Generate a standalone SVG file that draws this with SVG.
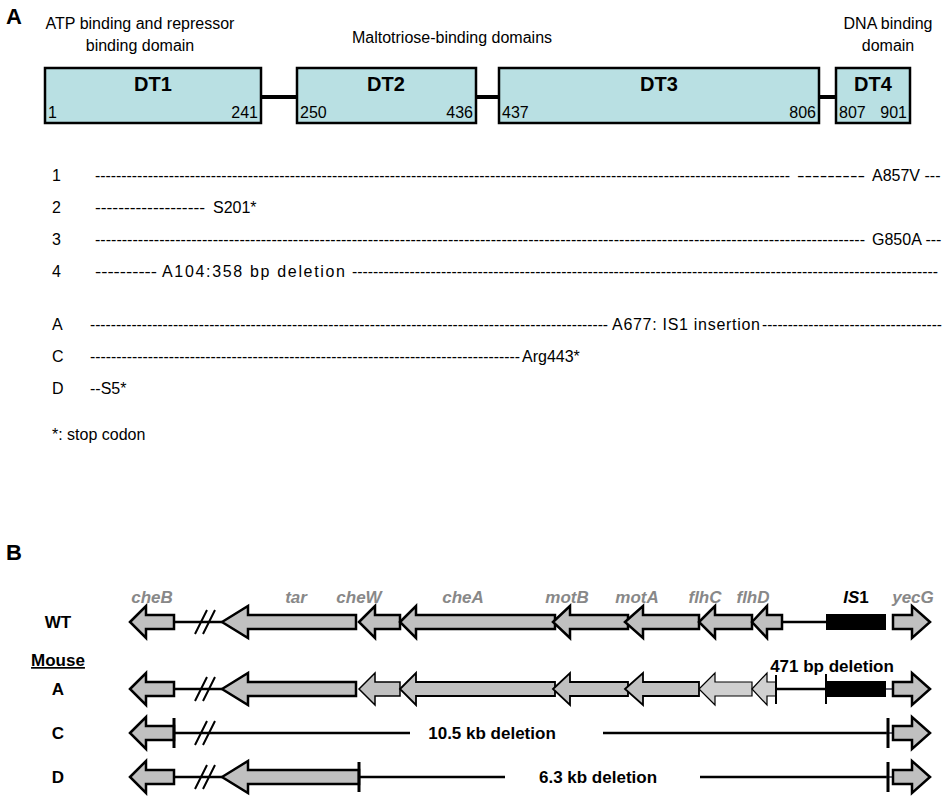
<svg xmlns="http://www.w3.org/2000/svg" width="949" height="800" viewBox="0 0 949 800">
<style>
text{font-family:"Liberation Sans",Arial,sans-serif;}
.t{font-size:16px;fill:#000}
.dom{fill:#b9e0e3;stroke:#000;stroke-width:2.5}
.big{font-size:20px;font-weight:bold}
.g{fill:#c0c0c0;stroke:#000;stroke-width:2.5;stroke-linejoin:miter}
.gl{fill:#d0d0d0;stroke:#000;stroke-width:1.2}
.ln{stroke:#000;stroke-width:2.5;fill:none}
.tk{stroke:#000;stroke-width:3}
.gn{font-size:17px;font-weight:bold;font-style:italic;fill:#888}
.b{font-size:17px;font-weight:bold}
</style>
<text x="6" y="24" style="font-size:22px;font-weight:bold">A</text>
<text class="t" x="140" y="29" text-anchor="middle">ATP binding and repressor</text>
<text class="t" x="140" y="51" text-anchor="middle">binding domain</text>
<text class="t" x="452" y="43" text-anchor="middle">Maltotriose-binding domains</text>
<text class="t" x="888" y="29" text-anchor="middle">DNA binding</text>
<text class="t" x="888" y="51" text-anchor="middle">domain</text>
<g id="linkers"><path class="ln" d="M261,97 H297 M476,97 H499 M819,97 H836" style="stroke-width:4"/></g>
<g id="DT1"><rect class="dom" x="45" y="68" width="216" height="55"/><text class="big" x="153" y="91" text-anchor="middle">DT1</text><text class="t" x="48" y="118">1</text><text class="t" x="258" y="118" text-anchor="end">241</text></g>
<g id="DT2"><rect class="dom" x="297" y="68" width="179" height="55"/><text class="big" x="386" y="91" text-anchor="middle">DT2</text><text class="t" x="300" y="118">250</text><text class="t" x="473" y="118" text-anchor="end">436</text></g>
<g id="DT3"><rect class="dom" x="499" y="68" width="320" height="55"/><text class="big" x="659" y="91" text-anchor="middle">DT3</text><text class="t" x="502" y="118">437</text><text class="t" x="816" y="118" text-anchor="end">806</text></g>
<g id="DT4"><rect class="dom" x="836" y="68" width="74" height="55"/><text class="big" x="873" y="91" text-anchor="middle">DT4</text><text class="t" x="839" y="118">807</text><text class="t" x="907" y="118" text-anchor="end">901</text></g>
<g class="t">
<text x="52" y="181">1</text><text x="95" y="181" textLength="695" lengthAdjust="spacingAndGlyphs">------------------------------------------------------------------------------------------------------------------------------------</text><text x="797" y="181" textLength="68" lengthAdjust="spacingAndGlyphs">---------</text><text x="872" y="181">A857V ---</text>
<text x="52" y="213">2</text><text x="95" y="213" textLength="110" lengthAdjust="spacingAndGlyphs">-------------------</text><text x="213" y="213">S201*</text>
<text x="52" y="245">3</text><text x="95" y="245" textLength="770" lengthAdjust="spacingAndGlyphs">------------------------------------------------------------------------------------------------------------------------------------------------</text><text x="872" y="245">G850A ---</text>
<text x="52" y="277">4</text><text x="95" y="277" textLength="62" lengthAdjust="spacingAndGlyphs">----------</text><text x="162" y="277" textLength="183" lengthAdjust="spacing">A104:358 bp deletion</text><text x="352" y="277" textLength="586" lengthAdjust="spacingAndGlyphs">----------------------------------------------------------------------------------------------------------------</text>
<text x="52" y="330">A</text><text x="90" y="330" textLength="518" lengthAdjust="spacingAndGlyphs">----------------------------------------------------------------------------------------------------</text><text x="612" y="330" textLength="148" lengthAdjust="spacing">A677: IS1 insertion</text><text x="762" y="330" textLength="180" lengthAdjust="spacingAndGlyphs">-----------------------------------</text>
<text x="52" y="362">C</text><text x="90" y="362" textLength="430" lengthAdjust="spacingAndGlyphs">----------------------------------------------------------------------------------</text><text x="522" y="362">Arg443*</text>
<text x="52" y="394">D</text><text x="90" y="394">--S5*</text>
<text x="52" y="440">*: stop codon</text>
</g>
<text x="6" y="560" style="font-size:22px;font-weight:bold">B</text>
<g class="b" text-anchor="middle">
<text x="58" y="628">WT</text>
<text x="58" y="666" text-decoration="underline">Mouse</text>
<text x="58" y="695">A</text>
<text x="58" y="739">C</text>
<text x="58" y="783">D</text>
</g>
<g class="gn" text-anchor="middle">
<text x="152" y="603">cheB</text><text x="296" y="603">tar</text><text x="359" y="603">cheW</text><text x="463" y="603">cheA</text><text x="567" y="603">motB</text><text x="637" y="603">motA</text><text x="705" y="603">flhC</text><text x="753" y="603">flhD</text><text x="913" y="603">yecG</text>
<text x="856" y="603" style="fill:#000"><tspan>IS</tspan><tspan style="font-style:normal">1</tspan></text>
</g>
<g id="connectors">
<path class="ln" d="M174,622 H222 M782,622 H826"/>
<path class="ln" d="M174,689 H222 M776,689 H826"/>
<path class="ln" d="M174,733 H410 M603,733 H888"/>
<path class="ln" d="M174,777 H222 M359,777 H505 M700,777 H888"/>
<path class="ln" d="M886,689 H892 M886,733 H892 M886,777 H892" style="stroke:#334;stroke-width:1.5"/>
<path d="M195,634 L207,610 M203,634 L215,610 M195,701 L207,677 M203,701 L215,677 M195,745 L207,721 M203,745 L215,721 M195,789 L207,765 M203,789 L215,765" stroke="#000" stroke-width="2"/>
</g>
<g id="row-WT">
<path class="g" d="M130,622 l16,-16 v9 h28 v14 h-28 v9 Z"/>
<path class="g" d="M222,622 l26,-16 v9 h108 v14 h-108 v9 Z"/>
<path class="g" d="M359,622 l16,-16 v9 h25 v14 h-25 v9 Z"/>
<path class="g" d="M400,622 l16,-16 v9 h139 v14 h-139 v9 Z"/>
<path class="g" d="M553,622 l17,-16 v9 h58 v14 h-58 v9 Z"/>
<path class="g" d="M625,622 l18,-16 v9 h56 v14 h-56 v9 Z"/>
<path class="g" d="M699,622 l16,-16 v9 h37 v14 h-37 v9 Z"/>
<path class="g" d="M752,622 l15,-16 v9 h15 v14 h-15 v9 Z"/>
<rect x="826" y="614" width="60" height="16" fill="#000"/>
<path class="g" d="M930,622 l-18,-16 v9 h-19 v14 h19 v9 Z"/>
</g>
<g id="row-A">
<path class="g" d="M130,689 l16,-16 v9 h28 v14 h-28 v9 Z"/>
<path class="g" d="M222,689 l26,-16 v9 h108 v14 h-108 v9 Z"/>
<path class="g" d="M359,689 l16,-16 v9 h25 v14 h-25 v9 Z" style="stroke-width:1.5"/>
<path class="g" d="M400,689 l16,-16 v9 h139 v14 h-139 v9 Z" style="stroke-width:1.8"/>
<path class="g" d="M553,689 l17,-16 v9 h58 v14 h-58 v9 Z" style="stroke-width:1.8"/>
<path class="g" d="M625,689 l18,-16 v9 h56 v14 h-56 v9 Z" style="stroke-width:1.8"/>
<path class="gl" d="M699,689 l16,-16 v9 h37 v14 h-37 v9 Z"/>
<path class="gl" d="M752,689 l15,-16 v9 h9 v14 h-9 v9 Z"/>
<rect x="826" y="681" width="60" height="16" fill="#000"/>
<path class="g" d="M930,689 l-18,-16 v9 h-19 v14 h19 v9 Z"/>
<path class="tk" d="M776,675 V704 M826,674 V704" style="stroke-width:2"/>
<text class="b" x="832" y="672" text-anchor="middle">471 bp deletion</text>
</g>
<g id="row-C">
<path class="g" d="M130,733 l16,-16 v9 h28 v14 h-28 v9 Z"/>
<path class="tk" d="M174,718 V748 M888,718 V748"/>
<path class="g" d="M930,733 l-18,-16 v9 h-19 v14 h19 v9 Z"/>
<text class="b" x="492" y="739" text-anchor="middle">10.5 kb deletion</text>
</g>
<g id="row-D">
<path class="g" d="M130,777 l16,-16 v9 h28 v14 h-28 v9 Z"/>
<path class="g" d="M222,777 l26,-16 v9 h111 v14 h-111 v9 Z"/>
<path class="tk" d="M359,762 V792 M888,762 V792"/>
<path class="g" d="M930,777 l-18,-16 v9 h-19 v14 h19 v9 Z"/>
<text class="b" x="598" y="783" text-anchor="middle">6.3 kb deletion</text>
</g>
</svg>
